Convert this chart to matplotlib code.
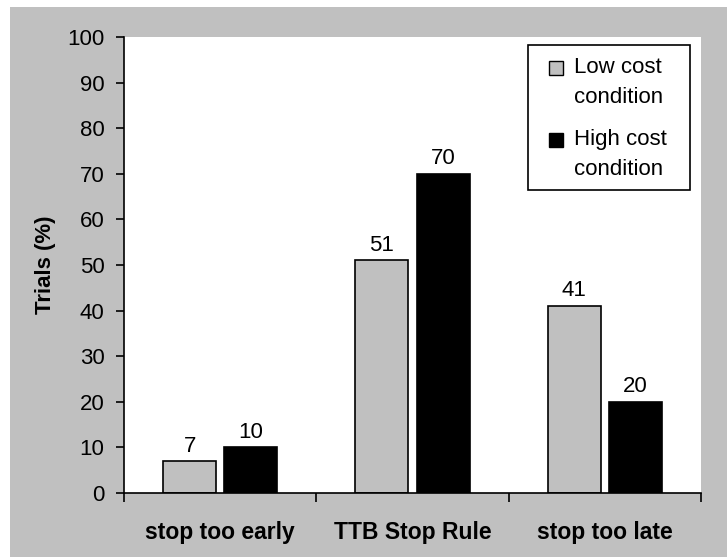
import matplotlib.pyplot as plt
import matplotlib.patches as mpatches
import numpy as np

categories = ['stop too early', 'TTB Stop Rule', 'stop too late']
low_cost = [7, 51, 41]
high_cost = [10, 70, 20]
series_labels = ['Low cost\ncondition', 'High cost\ncondition']
y_ticks = [0, 10, 20, 30, 40, 50, 60, 70, 80, 90, 100]

plt.rcParams['font.family'] = ['Liberation Sans', 'DejaVu Sans']

GREY = '#c0c0c0'
FS = 16

fig = plt.figure(figsize=(7.27, 5.57), dpi=100, facecolor=GREY)
# white strip at top and left, as in the cropped reference
fig.patches.append(mpatches.Rectangle((0, 1 - 7 / 557), 1, 7 / 557, transform=fig.transFigure,
                                      facecolor='white', edgecolor='none', zorder=0))
fig.patches.append(mpatches.Rectangle((0, 0), 10 / 727, 1, transform=fig.transFigure,
                                      facecolor='white', edgecolor='none', zorder=0))

ax = fig.add_axes([124 / 727, 1 - 493 / 557, 577 / 727, 456 / 557])
ax.set_facecolor('white')

x = np.arange(len(categories))
w = 0.276
gap = 0.042
off = (w + gap) / 2

b1 = ax.bar(x - off, low_cost, w, color=GREY, edgecolor='black', linewidth=1.2)
b2 = ax.bar(x + off, high_cost, w, color='black', edgecolor='black', linewidth=1.2)

for bars, vals in ((b1, low_cost), (b2, high_cost)):
    for r, v in zip(bars, vals):
        ax.text(r.get_x() + r.get_width() / 2, v + 1.0, str(v), ha='center', va='bottom', fontsize=FS)

ax.set_xlim(-0.5, len(categories) - 0.5)
ax.set_ylim(0, 100)
ax.set_yticks(y_ticks)
ax.tick_params(axis='y', labelsize=FS, length=6, width=1.2, direction='out', pad=8)

ax.set_xticks(np.arange(len(categories) + 1) - 0.5)
ax.set_xticklabels([])
ax.set_xticks(x, minor=True)
ax.set_xticklabels(categories, minor=True, fontsize=16.5, fontweight='bold')
ax.tick_params(axis='x', which='major', length=6.5, width=1.2, direction='out')
ax.tick_params(axis='x', which='minor', length=0, pad=20)

for s in ('top', 'right'):
    ax.spines[s].set_visible(False)
for s in ('left', 'bottom'):
    ax.spines[s].set_linewidth(1.2)

ax.set_ylabel('Trials (%)', fontsize=FS, fontweight='bold')
ax.yaxis.set_label_coords(-0.118, 0.5)

# legend box drawn by hand so the square sits on the first text line
ax.add_patch(mpatches.Rectangle((0.700, 0.664), 0.281, 0.318, transform=ax.transAxes,
                                facecolor='white', edgecolor='black', linewidth=1.2,
                                clip_on=False, zorder=5))
sq_w, sq_h = 14 / 577, 14 / 456
for color, label, yc, ybase in ((GREY, series_labels[0], 0.932, 0.921),
                                 ('black', series_labels[1], 0.775, 0.764)):
    ax.add_patch(mpatches.Rectangle((0.736, yc - sq_h / 2), sq_w, sq_h, transform=ax.transAxes,
                                    facecolor=color, edgecolor='black', linewidth=1.0,
                                    clip_on=False, zorder=6))
    for i, line in enumerate(label.split('\n')):
        ax.text(0.780, ybase - i * 0.066, line, transform=ax.transAxes, fontsize=FS,
                ha='left', va='baseline', zorder=6)

fig.savefig('out.png', dpi=100, facecolor=GREY)
